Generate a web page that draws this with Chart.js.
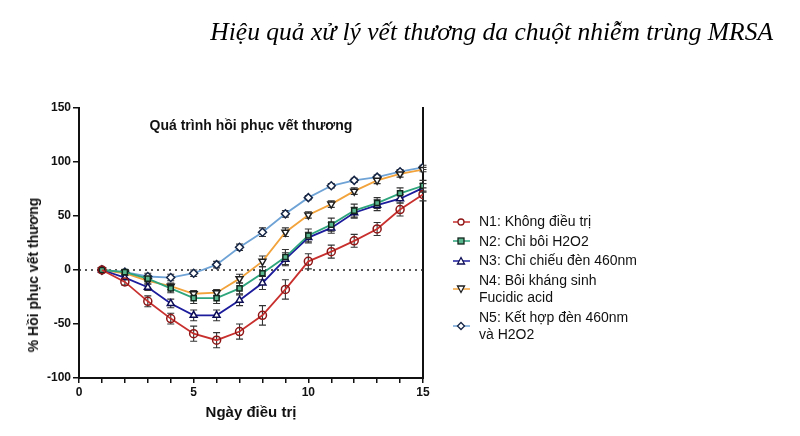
<!DOCTYPE html>
<html>
<head>
<meta charset="utf-8">
<script src="https://cdn.jsdelivr.net/npm/chart.js@4"></script>
<style>
  body { margin: 0; background: #fff; }
  #wrap { position: relative; width: 800px; height: 436px; overflow: hidden; font-family: "Liberation Sans", Arial, sans-serif; }
  #pageTitle { position: absolute; right: 27px; top: 17px; font-family: "Liberation Serif", "Times New Roman", serif; font-style: italic; font-size: 25.5px; color: #000; white-space: nowrap; }
  #innerTitle { position: absolute; left: 79px; width: 344px; top: 117px; text-align: center; font-weight: bold; font-size: 14px; color: #111; }
  #yTitle { position: absolute; left: 33px; top: 275px; transform: translate(-50%, -50%) rotate(-90deg); font-weight: bold; font-size: 14px; color: #111; white-space: nowrap; }
  #legend { position: absolute; left: 453px; top: 213px; font-size: 14px; color: #111; }
  .item { display: flex; align-items: center; margin-bottom: 2px; line-height: 17.5px; }
  .item svg { flex: none; margin-right: 9px; }
</style>
</head>
<body>
<div id="wrap">
  <canvas id="myChart" width="800" height="436"></canvas>
  <div id="pageTitle">Hiệu quả xử lý vết thương da chuột nhiễm trùng MRSA</div>
  <div id="innerTitle">Quá trình hồi phục vết thương</div>
  <div id="yTitle">% Hồi phục vết thương</div>
  <div id="legend"></div>
</div>
<script>
// Days of treatment
const days = [1, 2, 3, 4, 5, 6, 7, 8, 9, 10, 11, 12, 13, 14, 15];

// Group names
const labels = ['N1: Không điều trị', 'N2: Chỉ bôi H2O2', 'N3: Chỉ chiếu đèn 460nm', 'N4: Bôi kháng sinh\nFucidic acid', 'N5: Kết hợp đèn 460nm\nvà H2O2'];

// Mean recovery (%) per group
const n1 = [0, -11, -29, -45, -59, -65, -57, -42, -18, 8, 17, 27, 38, 56, 70];
const n2 = [0, -2, -8, -17, -26, -26, -17, -3, 12, 32, 42, 55, 62, 71, 78];
const n3 = [0, -7, -16, -31, -42, -42, -28, -12, 10, 30, 39, 53, 60, 66, 76];
const n4 = [0, -3, -10, -15, -22, -21, -8, 8, 35, 51, 61, 73, 83, 89, 93];
const n5 = [0, -2, -6, -7, -3, 5, 21, 35, 52, 67, 78, 83, 86, 91, 95];

// Error bars (SD)
const e1 = [0, 3, 5, 5, 7, 7, 7, 9, 9, 7, 6, 6, 6, 6, 6];
const e2 = [0, 2, 3, 4, 5, 5, 5, 6, 7, 6, 6, 6, 5, 5, 5];
const e3 = [0, 2, 3, 4, 5, 5, 5, 6, 6, 5, 5, 5, 5, 4, 4];
const e4 = [0, 2, 3, 3, 3, 3, 4, 5, 4, 3, 3, 3, 3, 3, 2];
const e5 = [0, 2, 3, 3, 3, 3, 3, 4, 3, 2, 2, 2, 2, 2, 2];

// Y ticks
const yTicks = [-100, -50, 0, 50, 100, 150];

const series = [
  { data: n1, err: e1, color: '#c8302e', edge: '#8e1616', fill: 'rgba(255,255,255,0)', style: 'circle', rot: 0 },
  { data: n2, err: e2, color: '#2ea57c', edge: '#13261d', fill: '#58b78c', style: 'rect', rot: 0 },
  { data: n3, err: e3, color: '#1c1c9c', edge: '#0c0c55', fill: '#ffffff', style: 'triangle', rot: 0 },
  { data: n4, err: e4, color: '#f2a33c', edge: '#1e1e1e', fill: '#ffffff', style: 'triangle', rot: 180 },
  { data: n5, err: e5, color: '#6fa3d6', edge: '#152545', fill: '#ffffff', style: 'rectRot', rot: 0 }
];

const errorBars = {
  id: 'errorBars',
  beforeDatasetsDraw(chart) {
    const ctx = chart.ctx;
    const y = chart.scales.y;
    const area = chart.chartArea;
    // dotted zero line
    ctx.save();
    ctx.strokeStyle = '#222';
    ctx.lineWidth = 1.5;
    ctx.setLineDash([2, 4]);
    ctx.beginPath();
    ctx.moveTo(area.left, y.getPixelForValue(0));
    ctx.lineTo(area.right, y.getPixelForValue(0));
    ctx.stroke();
    ctx.setLineDash([]);
    // error bars
    ctx.strokeStyle = '#333';
    ctx.lineWidth = 1.1;
    chart.data.datasets.forEach((ds, di) => {
      const meta = chart.getDatasetMeta(di);
      meta.data.forEach((pt, i) => {
        const e = ds.err[i];
        if (!e) return;
        const top = y.getPixelForValue(ds.data[i].y + e);
        const bot = y.getPixelForValue(ds.data[i].y - e);
        ctx.beginPath();
        ctx.moveTo(pt.x, top); ctx.lineTo(pt.x, bot);
        ctx.moveTo(pt.x - 3.5, top); ctx.lineTo(pt.x + 3.5, top);
        ctx.moveTo(pt.x - 3.5, bot); ctx.lineTo(pt.x + 3.5, bot);
        ctx.stroke();
      });
    });
    ctx.restore();
  }
};

const myChart = document.getElementById('myChart');

new Chart(myChart, {
  type: 'line',
  data: {
    labels: days,
    datasets: series.map((s, i) => ({
      label: labels[i],
      data: s.data.map((v, j) => ({ x: days[j], y: v })),
      err: s.err,
      borderColor: s.color,
      borderWidth: 1.8,
      pointStyle: s.style,
      pointRotation: s.rot,
      pointRadius: s.style === 'rect' ? 3.6 : 4,
      pointBorderColor: s.edge,
      pointBackgroundColor: s.fill,
      pointBorderWidth: 1.5,
      tension: 0
    }))
  },
  options: {
    responsive: false,
    animation: false,
    layout: { padding: { left: 0, right: 377, top: 108, bottom: 14 } },
    scales: {
      x: {
        type: 'linear',
        min: 0,
        max: 15,
        afterFit: s => { s.height = 44; },
        ticks: {
          stepSize: 1,
          autoSkip: false,
          maxRotation: 0,
          color: '#111',
          padding: 2,
          font: { family: 'Liberation Sans', size: 12, weight: 'bold' },
          callback: v => (v % 5 === 0 ? v : '')
        },
        grid: { drawOnChartArea: false, drawTicks: true, tickLength: 5, color: '#111', lineWidth: 1.5 },
        border: { display: true, color: '#111', width: 2 },
        title: {
          display: true,
          text: 'Ngày điều trị',
          color: '#111',
          padding: { top: 2, bottom: 0 },
          font: { family: 'Liberation Sans', size: 15, weight: 'bold' }
        }
      },
      y: {
        min: -100,
        max: 150,
        afterFit: s => { s.width = 79; },
        afterBuildTicks: s => { s.ticks = yTicks.map(v => ({ value: v })); },
        ticks: {
          color: '#111',
          padding: 2,
          font: { family: 'Liberation Sans', size: 12, weight: 'bold' }
        },
        grid: { drawOnChartArea: false, drawTicks: true, tickLength: 6, color: '#111', lineWidth: 1.5 },
        border: { display: true, color: '#111', width: 2 }
      },
      y2: {
        position: 'right',
        min: -100,
        max: 150,
        afterFit: s => { s.width = 0; },
        ticks: { display: false },
        grid: { display: false },
        border: { display: true, color: '#111', width: 2 }
      }
    },
    plugins: {
      legend: { display: false },
      tooltip: { enabled: false }
    }
  },
  plugins: [errorBars]
});

// Legend built as HTML so that labels can wrap onto two lines
function markerSvg(s) {
  let shape = '';
  if (s.style === 'circle') shape = `<circle cx="8" cy="6" r="3" fill="#fff" stroke="${s.edge}" stroke-width="1.3"/>`;
  if (s.style === 'rect') shape = `<rect x="5" y="3" width="6" height="6" fill="${s.fill}" stroke="${s.edge}" stroke-width="1.3"/>`;
  if (s.style === 'triangle' && s.rot === 0) shape = `<polygon points="8,2.5 11.5,9 4.5,9" fill="#fff" stroke="${s.edge}" stroke-width="1.3"/>`;
  if (s.style === 'triangle' && s.rot === 180) shape = `<polygon points="8,9.5 11.5,3 4.5,3" fill="#fff" stroke="${s.edge}" stroke-width="1.3"/>`;
  if (s.style === 'rectRot') shape = `<polygon points="8,2.5 11.5,6 8,9.5 4.5,6" fill="#fff" stroke="${s.edge}" stroke-width="1.3"/>`;
  return `<svg width="17" height="12"><line x1="0" y1="6" x2="17" y2="6" stroke="${s.color}" stroke-width="1.5"/>${shape}</svg>`;
}

document.getElementById('legend').innerHTML = series.map((s, i) =>
  `<div class="item">${markerSvg(s)}<span>${labels[i].replace('\n', '<br>')}</span></div>`
).join('');
</script>
</body>
</html>
